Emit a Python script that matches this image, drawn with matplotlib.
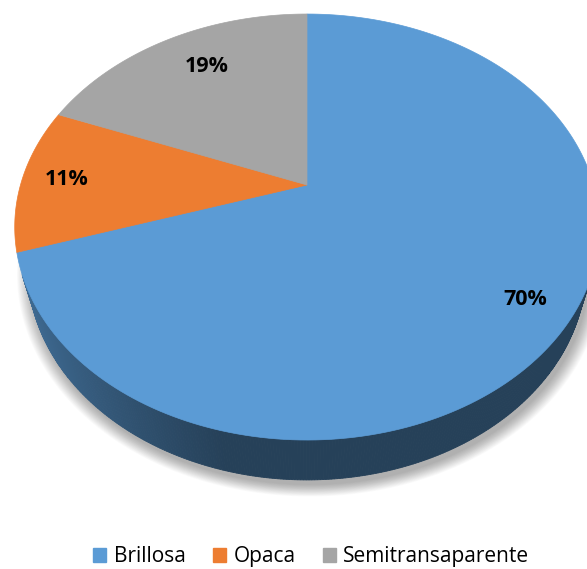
import numpy as np
import matplotlib.pyplot as plt
from matplotlib.patches import Polygon, Patch

# =============================================================================
# Data
# =============================================================================
categories = ['Brillosa', 'Opaca', 'Semitransaparente']
values = [70, 11, 19]
pct_labels = ['70%', '11%', '19%']
colors = ['#5B9BD5', '#ED7D31', '#A5A5A5']

# =============================================================================
# 3D pie projection (pixel space)
# =============================================================================
CX, CY = 307, 185          # apex of the pie in pixels
F, D = 1016, 3.546         # focal length, camera distance
PHI = np.deg2rad(45.6)     # tilt
H = 0.227                  # thickness
S, C = np.sin(PHI), np.cos(PHI)


def proj(X, Y, Z=0.0):
    depth = D + Y * C - Z * S
    u = F * X / depth
    v = F * (Y * S + Z * C) / depth
    return CX + u, CY - v


def shade(col, k):
    rgb = np.array(plt.matplotlib.colors.to_rgb(col))
    return tuple(rgb * k)


fig = plt.figure(figsize=(5.87, 5.69), dpi=100)
ax = fig.add_axes([0, 0, 1, 1])
ax.set_xlim(0, 587)
ax.set_ylim(569, 0)
ax.axis('off')

frac = np.array(values) / np.sum(values)
edges = 90 - 360 * np.concatenate([[0], np.cumsum(frac)])

# soft shadow under the pie
t = np.linspace(0, 2 * np.pi, 300)
bx, by = proj(np.cos(t), np.sin(t), -H)
mx, my = bx.mean(), by.mean()
for k in range(16, -1, -1):
    sc = 1 + k / 320
    ax.add_patch(Polygon(np.c_[mx + (bx - mx) * sc + 3, my + (by - my) * sc + 5],
                         closed=True, color='black', alpha=0.02, lw=0, zorder=1))

# side wall
for i, col in enumerate(colors):
    a0, a1 = np.deg2rad(edges[i + 1]), np.deg2rad(edges[i])
    ts = np.linspace(a0, a1, max(int(abs(a1 - a0) * 120), 3))
    for ta, tb in zip(ts[:-1], ts[1:]):
        tm = 0.5 * (ta + tb)
        if -1 - D * C * np.sin(tm) <= 0:
            continue
        x1, y1 = proj(np.cos(ta), np.sin(ta))
        x2, y2 = proj(np.cos(tb), np.sin(tb))
        x3, y3 = proj(np.cos(tb), np.sin(tb), -H)
        x4, y4 = proj(np.cos(ta), np.sin(ta), -H)
        w = np.clip((0.5 * (x1 + x2) - 20) / 200, 0, 1) ** 0.8
        k = 0.70 - 0.28 * w
        ax.add_patch(Polygon([[x1, y1], [x2, y2], [x3, y3], [x4, y4]], closed=True,
                             facecolor=shade(col, k), edgecolor=shade(col, k),
                             lw=0.6, zorder=2))

# top surface
for i, col in enumerate(colors):
    ts = np.deg2rad(np.linspace(edges[i], edges[i + 1], 200))
    xs, ys = proj(np.cos(ts), np.sin(ts))
    pts = np.vstack([[CX, CY], np.c_[xs, ys]])
    ax.add_patch(Polygon(pts, closed=True, facecolor=col, edgecolor=col,
                         lw=0.5, zorder=3))

# data labels
label_r = [0.86, 0.85, 0.79]
label_dx = [-3, 2, 12]
for i, lab in enumerate(pct_labels):
    m = np.deg2rad(0.5 * (edges[i] + edges[i + 1]))
    lx, ly = proj(label_r[i] * np.cos(m), label_r[i] * np.sin(m))
    ax.text(lx + label_dx[i], ly, lab, ha='center', va='center', fontsize=15.5,
            fontweight='bold', family='Open Sans', color='black', zorder=4)

handles = [Patch(facecolor=c, edgecolor=c) for c in colors]
fig.legend(handles, categories, loc='center', bbox_to_anchor=(0.53, 0.022),
           ncol=3, frameon=False, prop={'family': 'Open Sans', 'size': 15},
           handlelength=0.65, handleheight=0.65, handletextpad=0.35,
           columnspacing=1.3)

fig.savefig('out.png', dpi=100)
